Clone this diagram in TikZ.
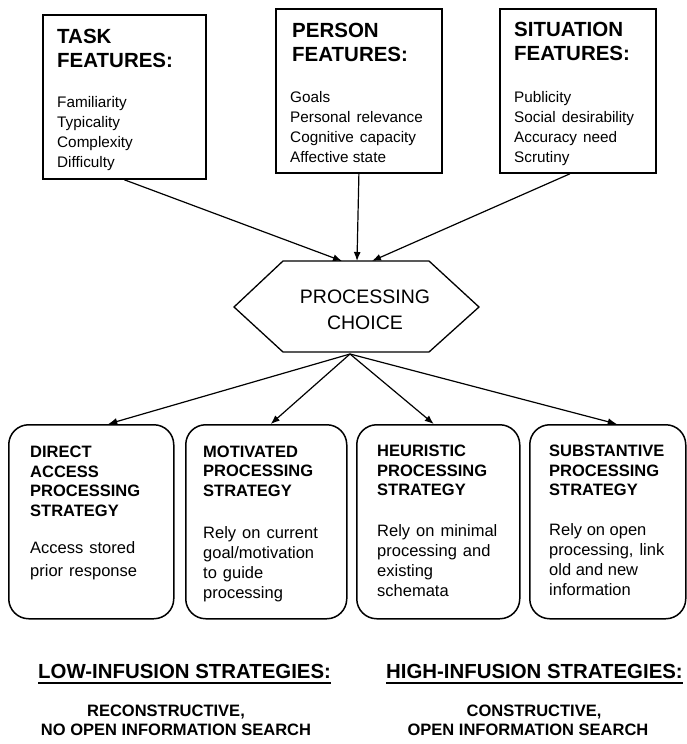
\documentclass[tikz,border=0pt]{standalone}
\usepackage{fontspec}
\setmainfont{Liberation Sans}
\usetikzlibrary{arrows.meta}
\newcommand\wsp{\hspace{6pt}}
\begin{document}
\begin{tikzpicture}[x=1pt,y=-1pt,
  featbox/.style={draw, line width=1.8pt, anchor=north west, inner sep=0pt},
  stratbox/.style={draw, line width=1.5pt, rounded corners=20pt, anchor=north west, inner sep=0pt, minimum height=194pt},
  feathead/.style={anchor=north west, inner sep=0pt, align=left, font=\fontsize{20.5}{24}\selectfont\bfseries},
  featitem/.style={anchor=north west, inner sep=0pt, align=left, font=\fontsize{15.3}{20}\selectfont},
  strathead/.style={anchor=north west, inner sep=0pt, align=left, font=\fontsize{16.5}{19.5}\selectfont\bfseries},
  stratbody/.style={anchor=north west, inner sep=0pt, align=left, font=\fontsize{16.5}{20}\selectfont},
  infhead/.style={anchor=base west, inner sep=0pt, font=\fontsize{20.4}{24}\selectfont\bfseries},
  infsub/.style={anchor=base, inner sep=0pt, font=\fontsize{16.5}{20}\selectfont\bfseries},
  arr/.style={line width=1.2pt, -{Latex[length=9pt,width=7pt]}}
]
\useasboundingbox (0,0) rectangle (686,744);

% feature boxes
\node[featbox, minimum width=163pt, minimum height=164pt] (task) at (42,14) {};
\node[featbox, minimum width=166pt, minimum height=164pt] (person) at (275,8) {};
\node[featbox, minimum width=156pt, minimum height=164pt] (sit) at (499,8) {};

\node[feathead] (taskh) at (57,28.6) {TASK\\FEATURES:};
\node[featitem] (taski) at (57,96.2) {Familiarity\\Typicality\\Complexity\\Difficulty};
\node[feathead] (personh) at (292,22.6) {PERSON\\FEATURES:};
\node[featitem] (personi) at (290,91) {Goals\\Personal\wsp relevance\\Cognitive\wsp capacity\\Affective state};
\node[feathead] (sith) at (514,21.6) {SITUATION\\FEATURES:};
\node[featitem] (siti) at (514,91) {Publicity\\Social\wsp desirability\\Accuracy\wsp need\\Scrutiny};

% processing choice hexagon
\coordinate (hA) at (283,261);
\coordinate (hB) at (429,261);
\coordinate (hC) at (479,307);
\coordinate (hD) at (429,352);
\coordinate (hE) at (283,352);
\coordinate (hF) at (234,307);
\draw[line width=1.3pt] (hA) -- (hB) -- (hC) -- (hD) -- (hE) -- (hF) -- cycle;
\node[anchor=north, inner sep=0pt, align=center, font=\fontsize{19.5}{26}\selectfont] (choice) at (365,290) {PROCESSING\\CHOICE};

\coordinate (inL) at (342,261);
\coordinate (inM) at (357,261);
\coordinate (inR) at (372,261);
\draw[arr] (task.south) -- (inL);
\draw[arr] (person.south) -- (inM);
\draw[arr] ([xshift=-8pt]sit.south) -- (inR);

% strategy boxes
\node[stratbox, minimum width=165pt] (s1) at (8,424) {};
\node[stratbox, minimum width=161pt] (s2) at (185,424) {};
\node[stratbox, minimum width=163pt] (s3) at (356,424) {};
\node[stratbox, minimum width=156pt] (s4) at (529,424) {};

\node[strathead] (s1h) at (30,446.1) {DIRECT\\ACCESS\\PROCESSING\\STRATEGY};
\node[stratbody, font=\fontsize{16.5}{23}\selectfont] (s1b) at (30,541.2) {Access\wsp stored\\prior\wsp response};
\node[strathead] (s2h) at (203,445.4) {MOTIVATED\\PROCESSING\\STRATEGY};
\node[stratbody] (s2b) at (203,526.4) {Rely\wsp on\wsp current\\goal/motivation\\to\wsp guide\\processing};
\node[strathead] (s3h) at (377,445.2) {HEURISTIC\\PROCESSING\\STRATEGY};
\node[stratbody] (s3b) at (377,524.8) {Rely\wsp on\wsp minimal\\processing\wsp and\\existing\\schemata};
\node[strathead] (s4h) at (549,445.2) {SUBSTANTIVE\\PROCESSING\\STRATEGY};
\node[stratbody] (s4b) at (549,523.2) {Rely on open\\processing,\wsp link\\old and new\\information};

\coordinate (out) at (350,354);
\draw[arr] (out) -- ([xshift=17pt]s1.north);
\draw[arr] (out) -- ([xshift=4.5pt]s2.north);
\draw[arr] (out) -- ([xshift=-4.5pt]s3.north);
\draw[arr] (out) -- ([xshift=9pt]s4.north);

% infusion labels
\node[infhead] (low) at (38,678) {LOW-INFUSION STRATEGIES:};
\node[infhead] (high) at (386,678) {HIGH-INFUSION STRATEGIES:};
\draw[line width=1.6pt] ([yshift=-5pt]low.base west) -- ([yshift=-5pt]low.base east);
\draw[line width=1.6pt] ([yshift=-5pt]high.base west) -- ([yshift=-5pt]high.base east);

\node[infsub] (rec) at (166,716) {RECONSTRUCTIVE,};
\node[infsub] (noopen) at (176,735) {NO OPEN INFORMATION SEARCH};
\node[infsub] (con) at (534,716) {CONSTRUCTIVE,};
\node[infsub] (open) at (528,735) {OPEN INFORMATION SEARCH};
\end{tikzpicture}
\end{document}
